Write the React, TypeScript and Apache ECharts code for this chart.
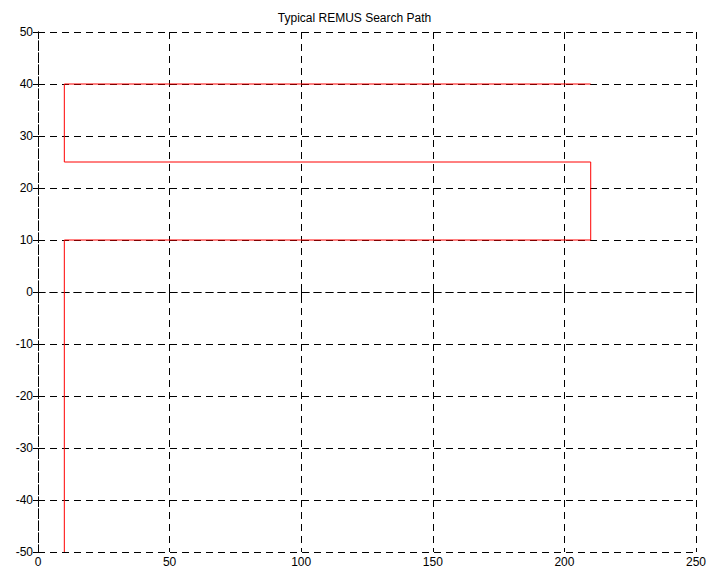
import React, { useEffect, useRef } from "react";
import * as echarts from "echarts";

const titleText = "Typical REMUS Search Path";
const pathX = [10, 10, 210, 210, 10, 10, 210];
const pathY = [-50, 10, 10, 25, 25, 40, 40];
const xRange = [0, 250];
const yRange = [-50, 50];

export default function App() {
  const ref = useRef<HTMLDivElement>(null);
  useEffect(() => {
    const chart = echarts.init(ref.current!, null, { renderer: "svg" });
    const font = "Liberation Sans, Arial, sans-serif";
    const dashed = { color: "#000", width: 1, type: [7, 5] as any };
    const mkX = (pos: string, labels: boolean) => ({
      type: "value",
      position: pos,
      min: xRange[0],
      max: xRange[1],
      interval: 50,
      axisLine: { show: true, lineStyle: dashed },
      axisTick: { show: true, inside: true, length: 5, lineStyle: { color: "#000" } },
      axisLabel: { show: labels, color: "#000", fontSize: 12, fontFamily: font, margin: 4 },
      splitLine: { show: labels, lineStyle: dashed },
    });
    const mkY = (pos: string, labels: boolean) => ({
      type: "value",
      position: pos,
      min: yRange[0],
      max: yRange[1],
      interval: 10,
      axisLine: { show: true, lineStyle: dashed },
      axisTick: { show: true, inside: true, length: 5, lineStyle: { color: "#000" } },
      axisLabel: { show: labels, color: "#000", fontSize: 12, fontFamily: font, margin: 5 },
      splitLine: { show: labels, lineStyle: dashed },
    });
    chart.setOption({
      animation: false,
      backgroundColor: "#fff",
      title: {
        text: titleText,
        left: "center",
        top: 7,
        textStyle: { fontSize: 12, fontWeight: "normal", color: "#000", fontFamily: font },
      },
      grid: { left: 38, right: 12, top: 32, bottom: 17 },
      xAxis: [mkX("bottom", true), mkX("top", false)],
      yAxis: [mkY("left", true), mkY("right", false)],
      series: [
        {
          type: "line",
          data: pathX.map((x, i) => [x, pathY[i]]),
          showSymbol: false,
          lineStyle: { color: "#ff0000", width: 1 },
          xAxisIndex: 0,
          yAxisIndex: 0,
        },
      ],
    });
    return () => chart.dispose();
  }, []);
  return <div ref={ref} style={{ width: 709, height: 569, position: "absolute", left: 0, top: 0 }} />;
}
